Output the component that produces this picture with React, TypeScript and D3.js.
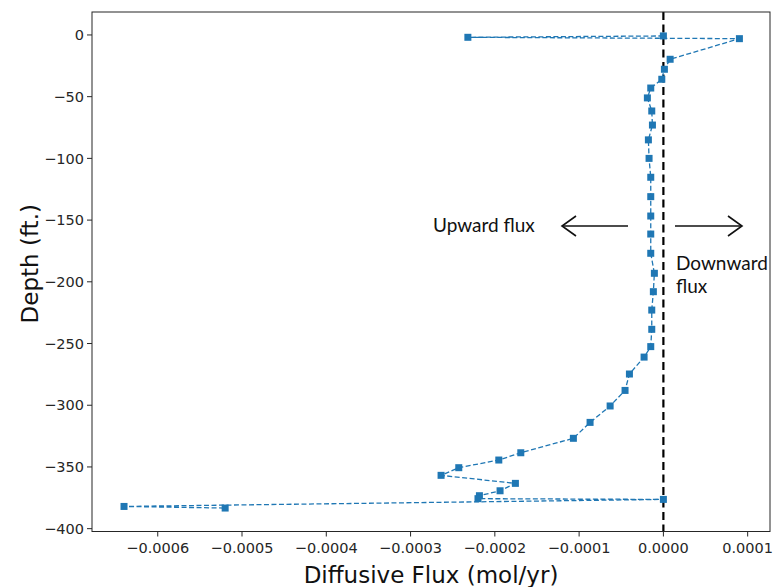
import React from "react";
import * as d3 from "d3";

// Diffusive flux (mol/yr) vs depth (ft), in depth order
const flux: number[] = [
  0.0, -0.000232, 0.0000902, 0.000008, 0.0000012, -0.0000019, -0.000015, -0.000019,
  -0.0000138, -0.000013, -0.0000178, -0.000017, -0.000015, -0.000015, -0.000015,
  -0.000015, -0.000015, -0.0000107, -0.0000119, -0.0000138, -0.0000138, -0.000015,
  -0.0000229, -0.0000403, -0.0000455, -0.0000632, -0.000087, -0.0001068, -0.0001692,
  -0.0001953, -0.0002428, -0.0002638, -0.0001756, -0.0001938, -0.0002183, -0.00022,
  0.0, -0.00064, -0.00052,
];
const depth: number[] = [
  -0.8, -1.9, -3.0, -19.7, -27.8, -35.9, -43.0, -51.0,
  -61.6, -73.0, -85.0, -100.0, -115.3, -131.0, -146.7,
  -161.3, -176.9, -193.1, -208.0, -222.9, -238.5, -252.5,
  -261.0, -274.7, -288.0, -300.6, -313.9, -326.8, -338.5,
  -344.4, -350.6, -356.8, -363.3, -369.3, -373.3, -375.7,
  -376.3, -382.0, -383.3,
];

const xTicks: number[] = [-0.0006, -0.0005, -0.0004, -0.0003, -0.0002, -0.0001, 0, 0.0001];
const yTicks: number[] = [0, -50, -100, -150, -200, -250, -300, -350, -400];
const xDomain: number[] = [-0.000678, 0.0001265];
const yDomain: number[] = [-402.3, 18.6];

const W = 778;
const H = 587;
const L = 92, R = 770, T = 12, B = 531.5;

const BLUE = "#1f77b4";
const AX = "#262626";
const TICKFONT = "DejaVu Sans";

export default function App() {
  const x = d3.scaleLinear().domain(xDomain).range([L, R]);
  const y = d3.scaleLinear().domain(yDomain).range([B, T]);
  const fmtX = (v: number) => (v === 0 ? "0.0000" : d3.format(".4f")(v));
  const fmtY = (v: number) => d3.format("d")(v);

  const pts = flux.map((f, i) => [f, depth[i]] as [number, number]);
  const line = d3
    .line<[number, number]>()
    .x((d) => x(d[0]))
    .y((d) => y(d[1]));

  const ms = 7;
  const arrowY = 226;
  const lA0 = 628, lA1 = 562; // left arrow tail/head
  const rA0 = 675, rA1 = 742; // right arrow tail/head
  const hw = 14, hh = 10;

  return (
    <svg
      width={W}
      height={H}
      viewBox={`0 0 ${W} ${H}`}
      style={{ position: "absolute", left: 0, top: 0, background: "#fff" }}
    >
      <rect x={0} y={0} width={W} height={H} fill="#fff" />
      {/* zero line */}
      <line
        x1={x(0)}
        x2={x(0)}
        y1={T}
        y2={B}
        stroke="#000"
        strokeWidth={2.2}
        strokeDasharray="8,4.5"
      />
      {/* data line */}
      <path
        d={line(pts) || ""}
        fill="none"
        stroke={BLUE}
        strokeWidth={1.3}
        strokeDasharray="5,2.5"
      />
      {pts.map((d, i) => (
        <rect
          key={i}
          x={x(d[0]) - ms / 2}
          y={y(d[1]) - ms / 2}
          width={ms}
          height={ms}
          fill={BLUE}
        />
      ))}
      {/* spines */}
      <rect x={L} y={T} width={R - L} height={B - T} fill="none" stroke={AX} strokeWidth={1} />
      {/* x ticks */}
      {xTicks.map((t) => (
        <g key={"x" + t}>
          <line x1={x(t)} x2={x(t)} y1={B} y2={B + 5} stroke={AX} strokeWidth={1} />
          <text
            x={x(t)}
            y={B + 21}
            textAnchor="middle"
            fontFamily={TICKFONT}
            fontSize={14.5}
            fill={AX}
          >
            {fmtX(t)}
          </text>
        </g>
      ))}
      {/* y ticks */}
      {yTicks.map((t) => (
        <g key={"y" + t}>
          <line x1={L - 5} x2={L} y1={y(t)} y2={y(t)} stroke={AX} strokeWidth={1} />
          <text
            x={L - 8}
            y={y(t)}
            dy="0.36em"
            textAnchor="end"
            fontFamily={TICKFONT}
            fontSize={14.5}
            fill={AX}
          >
            {fmtY(t)}
          </text>
        </g>
      ))}
      {/* axis labels */}
      <text
        x={(L + R) / 2}
        y={583}
        textAnchor="middle"
        fontFamily={TICKFONT}
        fontSize={23}
        fill="#111"
      >
        Diffusive Flux (mol/yr)
      </text>
      <text
        transform={`translate(38,${(T + B) / 2 - 8}) rotate(-90)`}
        textAnchor="middle"
        fontFamily={TICKFONT}
        fontSize={23}
        fill="#111"
      >
        Depth (ft.)
      </text>
      {/* annotations */}
      <text x={433} y={232} fontFamily="Lato" fontSize={19} fill="#111">
        Upward flux
      </text>
      <g stroke="#111" strokeWidth={1.6} fill="none">
        <line x1={lA0} x2={lA1} y1={arrowY} y2={arrowY} />
        <polyline points={`${lA1 + hw},${arrowY - hh} ${lA1},${arrowY} ${lA1 + hw},${arrowY + hh}`} />
        <line x1={rA0} x2={rA1} y1={arrowY} y2={arrowY} />
        <polyline points={`${rA1 - hw},${arrowY - hh} ${rA1},${arrowY} ${rA1 - hw},${arrowY + hh}`} />
      </g>
      <text x={676} y={270} fontFamily="Lato" fontSize={19} fill="#111">
        Downward
      </text>
      <text x={676} y={293} fontFamily="Lato" fontSize={19} fill="#111">
        flux
      </text>
    </svg>
  );
}
